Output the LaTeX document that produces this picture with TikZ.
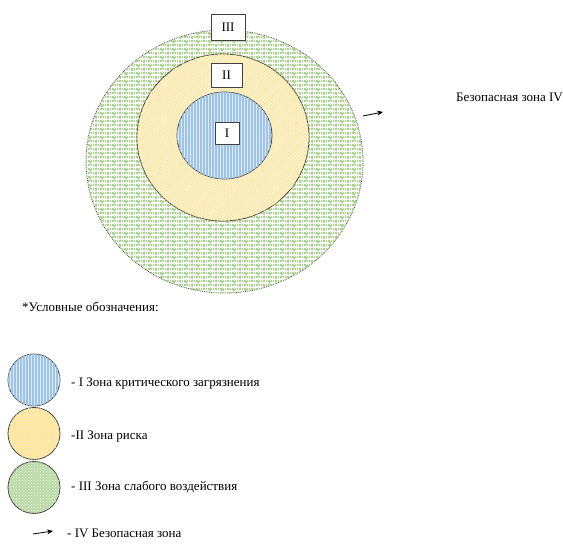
\documentclass[tikz,border=0pt]{standalone}
\usepackage{fontspec}
\setmainfont{Liberation Serif}
\usetikzlibrary{shapes.geometric,patterns,patterns.meta,arrows.meta}
\definecolor{bluebg}{HTML}{DEEBF7}
\definecolor{blueln}{HTML}{9DC3E6}
\definecolor{orbg}{HTML}{FFF5D9}
\definecolor{orln}{HTML}{FFE08A}
\definecolor{grbg}{HTML}{F6FAF3}
\definecolor{grln}{HTML}{A9D18E}
\definecolor{edge}{HTML}{404040}
\pgfdeclarepatternformonly{mybricks}{\pgfqpoint{-0.6pt}{-0.6pt}}{\pgfqpoint{12.6pt}{8.6pt}}{\pgfqpoint{12pt}{8pt}}{%
  \pgfsetlinewidth{1.2pt}%
  \pgfpathmoveto{\pgfqpoint{0pt}{0pt}}\pgfpathlineto{\pgfqpoint{12pt}{0pt}}%
  \pgfpathmoveto{\pgfqpoint{0pt}{4pt}}\pgfpathlineto{\pgfqpoint{12pt}{4pt}}%
  \pgfpathmoveto{\pgfqpoint{0pt}{0pt}}\pgfpathlineto{\pgfqpoint{0pt}{4pt}}%
  \pgfpathmoveto{\pgfqpoint{6pt}{4pt}}\pgfpathlineto{\pgfqpoint{6pt}{8pt}}%
  \pgfusepath{stroke}}
\tikzset{
  zoneone/.style={ellipse,inner sep=0pt,draw=edge,line width=0.8pt,fill=bluebg,
    postaction={pattern={Lines[angle=90,distance=3pt,line width=1.3pt]},pattern color=blueln}},
  zonetwo/.style={ellipse,inner sep=0pt,draw=edge,line width=0.8pt,fill=orbg,
    postaction={pattern={Lines[angle=45,distance=2.6pt,line width=0.8pt]},pattern color=orln}},
  zonethree/.style={ellipse,inner sep=0pt,draw=edge,densely dotted,line width=0.8pt,fill=grbg,
    postaction={pattern=mybricks,pattern color=grln}},
  legtwo/.style={circle,inner sep=0pt,minimum size=52pt,draw=edge,line width=0.8pt,fill=orln!75!orbg,
    postaction={pattern=crosshatch dots,pattern color=orbg}},
  legthree/.style={circle,inner sep=0pt,minimum size=52pt,draw=edge,line width=0.8pt,fill=grln!80!white,
    postaction={pattern=crosshatch dots,pattern color=grbg}},
  label/.style={draw=edge,fill=white,line width=0.7pt,inner sep=0pt,font=\fontsize{13}{15}\selectfont},
  txt/.style={anchor=west,inner sep=0pt,font=\fontsize{13}{15}\selectfont},
  arr/.style={-{Stealth[length=6pt,width=5pt]},line width=0.8pt,black}
}
\begin{document}
\begin{tikzpicture}[x=1pt,y=-1pt]
\useasboundingbox (0,0) rectangle (563,545);
% zones
\node[zonethree,minimum width=277pt,minimum height=263pt] (z3) at (224.5,161.5) {};
\node[zonetwo,minimum width=172pt,minimum height=167pt] (z2) at (223,137.5) {};
\node[zoneone,minimum width=95pt,minimum height=87pt] (z1) at (224.5,135.5) {};
\node[label,minimum width=34pt,minimum height=26pt] (b3) at (228,27) {III};
\node[label,minimum width=31pt,minimum height=24pt] (b2) at (226.5,75) {II};
\node[label,minimum width=24pt,minimum height=22pt] (b1) at (227,133) {I};
% safe zone arrow
\coordinate (a1) at (363,116);
\coordinate (a2) at (383,112);
\draw[arr] (a1) -- (a2);
\node[txt] (safe) at (456,97) {Безопасная зона IV};
% legend
\node[txt] (legtitle) at (22,307) {*Условные обозначения:};
\node[zoneone,minimum width=52pt,minimum height=52pt] (l1) at (34,380) {};
\node[legtwo] (l2) at (34,433.5) {};
\node[legthree] (l3) at (34,487.5) {};
\node[txt] (t1) at (71,384) {- I Зона критического загрязнения};
\node[txt] (t2) at (71,437) {-II Зона риска};
\node[txt] (t3) at (71,487) {- III Зона слабого воздействия};
\coordinate (la1) at (33,534);
\coordinate (la2) at (53,531);
\draw[arr] (la1) -- (la2);
\node[txt] (t4) at (67,533) {- IV Безопасная зона};
\end{tikzpicture}
\end{document}
